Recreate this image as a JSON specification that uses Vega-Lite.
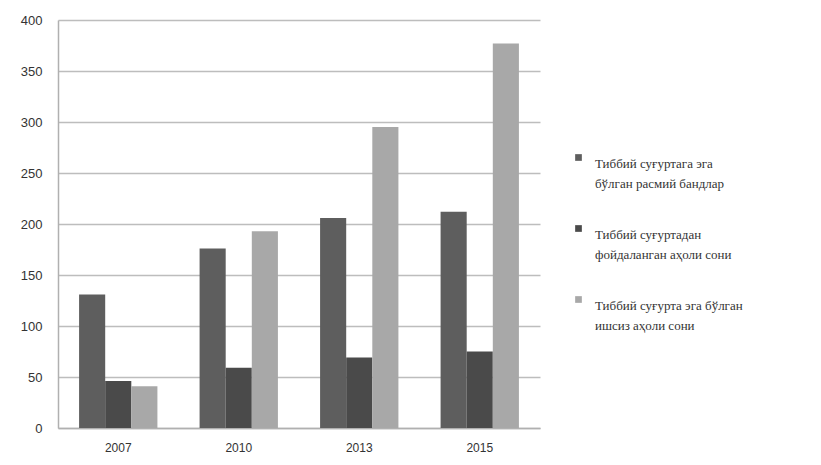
{
  "$schema": "https://vega.github.io/schema/vega-lite/v6.json",
  "autosize": "none",
  "width": 482,
  "height": 408,
  "padding": {"left": 58, "top": 20, "right": 281, "bottom": 37},
  "background": "#ffffff",
  "data": {
    "values": [
      {"year": "2007", "series": "s1", "value": 131},
      {"year": "2007", "series": "s2", "value": 46},
      {"year": "2007", "series": "s3", "value": 41},
      {"year": "2010", "series": "s1", "value": 176},
      {"year": "2010", "series": "s2", "value": 59},
      {"year": "2010", "series": "s3", "value": 193},
      {"year": "2013", "series": "s1", "value": 206},
      {"year": "2013", "series": "s2", "value": 69},
      {"year": "2013", "series": "s3", "value": 295},
      {"year": "2015", "series": "s1", "value": 212},
      {"year": "2015", "series": "s2", "value": 75},
      {"year": "2015", "series": "s3", "value": 377}
    ]
  },
  "mark": {"type": "bar"},
  "encoding": {
    "x": {
      "field": "year", "type": "nominal",
      "scale": {"paddingInner": 0.35, "paddingOuter": 0.175},
      "axis": {"title": null, "labelAngle": 0, "ticks": false, "domainColor": "#b0b0b0", "domainWidth": 1.5, "labelFont": "Liberation Sans", "labelFontSize": 12, "labelColor": "#333333", "labelPadding": 14}
    },
    "xOffset": {"field": "series", "type": "nominal", "scale": {"paddingInner": 0}},
    "y": {
      "field": "value", "type": "quantitative",
      "scale": {"domain": [0, 400]},
      "axis": {"title": null, "values": [0, 50, 100, 150, 200, 250, 300, 350, 400], "ticks": false, "domainColor": "#b0b0b0", "domainWidth": 1.5, "gridColor": "#bdbdbd", "gridWidth": 1.5, "labelFont": "Liberation Sans", "labelFontSize": 13, "labelColor": "#333333", "labelPadding": 16}
    },
    "color": {
      "field": "series", "type": "nominal",
      "scale": {"domain": ["s1", "s2", "s3"], "range": ["#5e5e5e", "#4a4a4a", "#a8a8a8"]},
      "legend": {
        "title": null,
        "orient": "none",
        "legendX": 514,
        "legendY": 131,
        "symbolType": "square",
        "symbolSize": 45,
        "symbolStrokeWidth": 0,
        "labelFont": "Liberation Serif",
        "labelFontSize": 13,
        "labelColor": "#333333",
        "labelBaseline": "top",
        "labelOffset": 10,
        "rowPadding": 31,
        "labelLimit": 300,
        "labelExpr": "datum.label == 's1' ? ['Тиббий суғуртага эга', 'бўлган расмий бандлар'] : datum.label == 's2' ? ['Тиббий суғуртадан', 'фойдаланган аҳоли сони'] : ['Тиббий суғурта эга бўлган', 'ишсиз аҳоли сони']"
      }
    }
  },
  "config": {
    "view": {"stroke": null},
    "style": {"guide-label": {"lineHeight": 20}}
  }
}
